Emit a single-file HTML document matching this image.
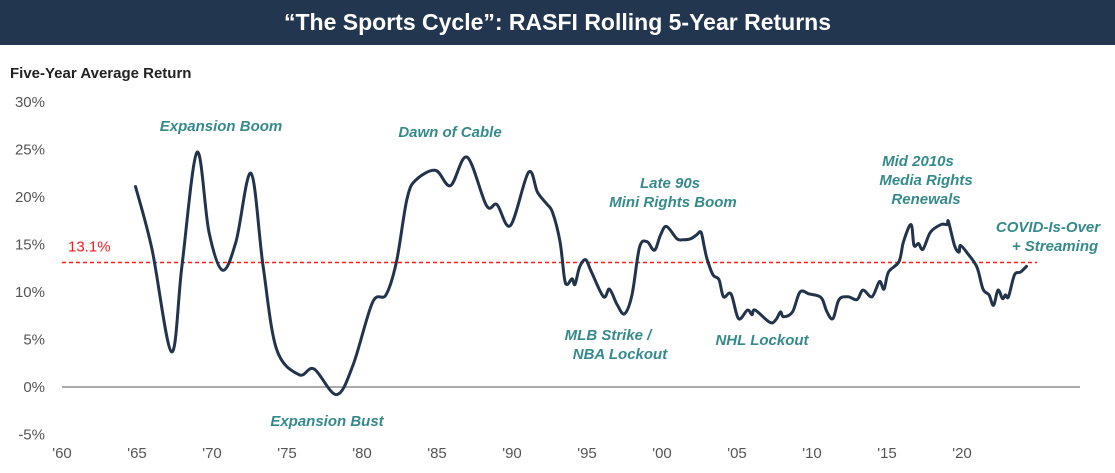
<!DOCTYPE html>
<html><head><meta charset="utf-8"><style>
html,body{margin:0;padding:0;background:#fff;width:1115px;height:473px;overflow:hidden}
#t{position:absolute;left:0;top:0;width:1115px;height:45px;background:#233650;color:#fff;font:bold 23px "Liberation Sans",sans-serif;text-align:center;line-height:45px}
</style></head><body>
<div id="t">“The Sports Cycle”: RASFI Rolling 5-Year Returns</div>
<svg id="c" width="1115" height="473" style="position:absolute;left:0;top:0"></svg>
<script>
const yearsX=[1964.9,1966.0,1967.3,1968.0,1969.0,1969.8,1970.7,1971.6,1972.6,1973.4,1974.3,1975.8,1976.8,1978.3,1979.4,1980.7,1981.6,1982.3,1983.0,1983.6,1984.9,1985.9,1987.0,1988.3,1989.0,1989.9,1991.1,1991.7,1992.3,1992.7,1993.2,1993.5,1993.7,1994.0,1994.2,1994.5,1994.9,1995.3,1996.1,1996.5,1997.0,1997.5,1998.0,1998.5,1999.0,1999.5,1999.9,2000.3,2001.0,2001.4,2001.9,2002.3,2002.6,2002.8,2003.0,2003.4,2003.8,2004.1,2004.6,2005.1,2005.7,2006.0,2006.2,2007.2,2007.6,2007.9,2008.1,2008.7,2009.2,2009.8,2010.4,2010.7,2011.0,2011.4,2011.8,2012.4,2013.0,2013.4,2014.0,2014.5,2014.8,2015.1,2015.8,2016.1,2016.6,2016.8,2017.1,2017.4,2017.9,2018.6,2019.0,2019.1,2019.5,2019.8,2019.9,2020.4,2021.0,2021.4,2021.8,2022.1,2022.4,2022.7,2022.9,2023.1,2023.5,2023.9,2024.3];
const returns=[21.1,14.5,3.7,12.8,24.7,16.3,12.3,15.3,22.5,12.8,4.0,1.3,1.9,-0.8,2.3,8.9,9.7,13.2,19.8,21.8,22.8,21.2,24.2,19.1,19.2,17.0,22.6,20.5,19.3,18.4,15.3,11.4,10.8,11.4,10.8,12.6,13.4,12.1,9.5,10.3,8.7,7.7,9.7,14.7,15.3,14.4,16.0,16.9,15.6,15.5,15.6,16.0,16.3,14.9,13.5,11.8,11.3,9.5,9.8,7.2,8.1,7.6,8.1,6.8,7.1,7.9,7.4,7.9,10.0,9.8,9.6,9.2,7.9,7.2,9.2,9.5,9.2,10.2,9.5,11.1,10.3,12.1,13.2,15.3,17.1,14.9,15.1,14.5,16.3,17.1,17.1,17.4,14.9,14.2,14.9,14.0,12.6,10.3,9.7,8.6,10.2,9.3,9.7,9.5,11.8,12.1,12.7];
const avgReturn=13.1;
const yTicks=[30,25,20,15,10,5,0,-5];
const xTicks=[1960,1965,1970,1975,1980,1985,1990,1995,2000,2005,2010,2015,2020];
const NS='http://www.w3.org/2000/svg',svg=document.getElementById('c');
const X=y=>62+(y-1960)*15, Y=v=>387-v*9.5;
function mk(tag,at,txt){const e=document.createElementNS(NS,tag);for(const k in at)e.setAttribute(k,at[k]);if(txt!=null)e.textContent=txt;svg.appendChild(e);return e;}
const F='"Liberation Sans",sans-serif';
let e=mk('text',{x:10,y:78,'font-family':F,'font-size':15,'font-weight':'bold',fill:'#222'},'Five-Year Average Return');


yTicks.forEach(v=>{const t=mk('text',{x:45,y:Y(v)+5,'text-anchor':'end','font-family':F,'font-size':15,fill:'#555'},v+'%');

});
xTicks.forEach(y=>{const t=mk('text',{x:X(y),y:458,'text-anchor':'middle','font-family':F,'font-size':15,fill:'#555'},"'"+String(y).slice(2));

});
e=mk('line',{x1:62,x2:1080,y1:Y(0),y2:Y(0),stroke:'#555','stroke-width':1});


e=mk('line',{x1:62,x2:1037,y1:Y(avgReturn),y2:Y(avgReturn),stroke:'#ff1a1a','stroke-width':1.5,'stroke-dasharray':'4,3'});


e=mk('text',{x:68,y:Y(avgReturn)-11,'font-family':F,'font-size':15,fill:'#ff1a1a'},avgReturn.toFixed(1)+'%');


const P=yearsX.map((y,i)=>[X(y),Y(returns[i])]);
let d='M'+P[0][0]+','+P[0][1];
for(let i=0;i<P.length-1;i++){const p0=P[Math.max(i-1,0)],p1=P[i],p2=P[i+1],p3=P[Math.min(i+2,P.length-1)];
d+=` C${p1[0]+(p2[0]-p0[0])/6},${p1[1]+(p2[1]-p0[1])/6} ${p2[0]-(p3[0]-p1[0])/6},${p2[1]-(p3[1]-p1[1])/6} ${p2[0]},${p2[1]}`;}
e=mk('path',{d:d,fill:'none',stroke:'#22344c','stroke-width':3,'stroke-linejoin':'round','stroke-linecap':'round'});


const notes=[['Expansion Boom',221,131],['Dawn of Cable',450,137],['Late 90s',670,188],['Mini Rights Boom',673,207],['Mid 2010s',918,166],['Media Rights',926,185],['Renewals',926,204],['COVID-Is-Over',1048,232],['+ Streaming',1055,251],['MLB Strike /',608,340],['NBA Lockout',620,359],['NHL Lockout',762,345],['Expansion Bust',327,426]];
notes.forEach(n=>{const t=mk('text',{x:n[1],y:n[2],'text-anchor':'middle','font-family':F,'font-size':15,'font-style':'italic','font-weight':'bold',fill:'#368a8c'},n[0]);

});
</script>
</body></html>
